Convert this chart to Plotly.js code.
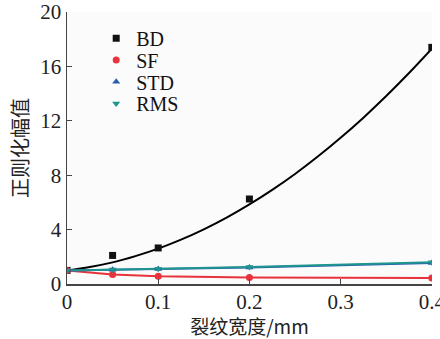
<!DOCTYPE html>
<html><head><meta charset="utf-8">
<script src="https://cdn.plot.ly/plotly-3.0.1.min.js"></script>
<style>html,body{margin:0;padding:0;background:#fff}#chart{width:440px;height:339px}</style>
</head><body><div id="chart"></div>
<script>
const crackWidth = [0, 0.05, 0.1, 0.2, 0.4];
const bdValues = [1.0, 2.1, 2.65, 6.25, 17.4];
const sfValues = [1.0, 0.70, 0.57, 0.48, 0.45];
const stdValues = [1.0, 1.04, 1.10, 1.22, 1.55];
const rmsValues = [1.0, 1.07, 1.13, 1.25, 1.60];
const fitX = [0, 0.025, 0.05, 0.075, 0.1, 0.125, 0.15, 0.175, 0.2, 0.225, 0.25, 0.275, 0.3, 0.325, 0.35, 0.375, 0.4];
const fitY = [1.00, 1.25, 1.59, 2.05, 2.60, 3.26, 4.02, 4.88, 5.85, 6.92, 8.09, 9.37, 10.75, 12.23, 13.82, 15.51, 17.30];
const seriesNames = ['BD', 'SF', 'STD', 'RMS'];
const xTicks = [0, 0.1, 0.2, 0.3, 0.4];
const xTickText = ['0', '0.1', '0.2', '0.3', '0.4'];
const yTicks = [0, 4, 8, 12, 16, 20];

const colors = {BD: '#111111', SF: '#e8323c', STD: '#2b5cad', RMS: '#1f9590'};
const symbols = {BD: 'square', SF: 'circle', STD: 'triangle-up', RMS: 'triangle-down'};
const values = {BD: bdValues, SF: sfValues, STD: stdValues, RMS: rmsValues};

const traces = [];
traces.push({x: fitX, y: fitY, mode: 'lines', line: {color: '#000', width: 2, shape: 'spline'}, showlegend: false, hoverinfo: 'skip'});
['SF', 'STD', 'RMS'].forEach(n => {
  traces.push({x: crackWidth, y: values[n], mode: 'lines', line: {color: colors[n], width: 2}, showlegend: false});
});
seriesNames.forEach(n => {
  traces.push({x: crackWidth, y: values[n], mode: 'markers', name: n,
    marker: {color: colors[n], symbol: symbols[n], size: 7}});
});

const serif = 'Liberation Serif';
const cjk = 'Noto Sans CJK SC';
const layout = {
  width: 440, height: 339,
  margin: {l: 67, r: 8, t: 12, b: 55},
  paper_bgcolor: '#ffffff', plot_bgcolor: '#fbfbfb',
  font: {family: serif, size: 21, color: '#222'},
  xaxis: {range: [0, 0.4002], tickvals: xTicks, ticktext: xTickText, ticks: 'inside', ticklen: 5,
    tickcolor: '#444', showline: true, linecolor: '#444', linewidth: 1.5, showgrid: false, zeroline: false,
    tickfont: {family: serif, size: 21}, ticklabeloverflow: 'allow', ticklabelstandoff: -2,
    title: {text: '裂纹宽度/mm', font: {family: cjk, size: 19}, standoff: 6}},
  yaxis: {range: [0, 20], tickvals: yTicks, ticks: 'inside', ticklen: 5,
    tickcolor: '#444', showline: true, linecolor: '#444', linewidth: 1.5, showgrid: false, zeroline: false,
    tickfont: {family: serif, size: 21},
    title: {text: '正则化幅值', font: {family: cjk, size: 20}, standoff: 6}},
  legend: {x: 0.08, y: 0.975, xanchor: 'left', yanchor: 'top', bgcolor: 'rgba(0,0,0,0)',
    font: {family: serif, size: 20, color: '#111'}, itemwidth: 30, tracegroupgap: 0},
  showlegend: true
};
Plotly.newPlot('chart', traces, layout, {displayModeBar: false, staticPlot: true}).then(() => {
  const items = document.querySelectorAll('.legend .traces');
  if (!items.length) return;
  const m = /translate\(([-\d.]+)[ ,]+([-\d.]+)\)/.exec(items[0].getAttribute('transform') || '');
  if (!m) return;
  const x0 = parseFloat(m[1]), y0 = parseFloat(m[2]);
  items.forEach((g, i) => g.setAttribute('transform', 'translate(' + x0 + ',' + (y0 + i * 21.7) + ')'));
});
</script></body></html>
